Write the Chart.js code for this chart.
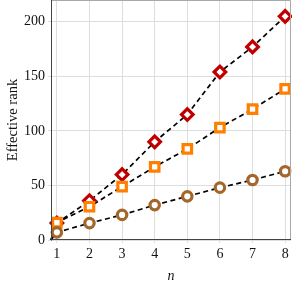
<!DOCTYPE html>
<html>
<head>
<meta charset="utf-8">
<script src="https://cdn.jsdelivr.net/npm/chart.js@4"></script>
<style>
  html, body { margin: 0; padding: 0; background: #fff; }
  #wrap { width: 292px; height: 289px; }
</style>
</head>
<body>
<div id="wrap"><canvas id="chart" width="292" height="289"></canvas></div>
<script>
// ---- DATA ----
const nValues    = [1, 2, 3, 4, 5, 6, 7, 8];
const redRank    = [15.5, 36, 60, 90, 115, 154, 177, 205];
const orangeRank = [16, 30.5, 49, 67, 83.5, 103, 120, 138.5];
const brownRank  = [7, 15.5, 23, 32, 40, 48, 55, 63];
const lineStart  = { x: 0.82, y: 0 };   // dashed guides start at the lower-left corner
const xTicks     = [1, 2, 3, 4, 5, 6, 7, 8];
const yTicks     = [0, 50, 100, 150, 200];

const FONT = "'Liberation Serif', 'DejaVu Serif', serif";

const toPoints = vals => nValues.map((n, i) => ({ x: n, y: vals[i] }));
const guide = vals => ({
  data: [lineStart, ...toPoints(vals)],
  showLine: true,
  borderColor: '#000',
  borderWidth: 1.7,
  borderDash: [5, 3.5],
  pointRadius: 0,
  order: 10
});
const markers = (vals, style, color, radius) => ({
  data: toPoints(vals),
  showLine: false,
  pointStyle: style,
  pointRadius: radius,
  pointBorderWidth: 3.2,
  pointBorderColor: color,
  pointBackgroundColor: '#fff',
  order: 1
});

// no extra room for overhanging tick labels
const noPad = s => { s.paddingTop = 0; s.paddingBottom = 0; s.paddingLeft = 0; s.paddingRight = 0; };

// box around the plot area
const frame = {
  id: 'frame',
  afterDraw(chart) {
    const { ctx, chartArea: a } = chart;
    ctx.save();
    ctx.strokeStyle = '#a8a8a8';
    ctx.lineWidth = 1;
    ctx.beginPath();
    ctx.moveTo(a.left, a.top + 0.5);
    ctx.lineTo(a.right - 0.5, a.top + 0.5);
    ctx.lineTo(a.right - 0.5, a.bottom);
    ctx.stroke();
    ctx.strokeStyle = '#444';
    ctx.beginPath();
    ctx.moveTo(a.left + 0.5, a.top);
    ctx.lineTo(a.left + 0.5, a.bottom - 0.5);
    ctx.lineTo(a.right, a.bottom - 0.5);
    ctx.stroke();
    ctx.restore();
  }
};

new Chart(document.getElementById('chart'), {
  type: 'scatter',
  data: {
    datasets: [
      guide(brownRank),
      guide(orangeRank),
      guide(redRank),
      markers(brownRank, 'circle', '#a3662b', 4.7),
      markers(orangeRank, 'rect', '#ff8000', 6),
      markers(redRank, 'rectRot', '#c00000', 5.8)
    ]
  },
  options: {
    responsive: false,
    animation: false,
    clip: false,
    layout: { autoPadding: false, padding: { top: 0, right: 1, left: 0, bottom: 0 } },
    plugins: { legend: { display: false }, tooltip: { enabled: false } },
    scales: {
      x: {
        type: 'linear',
        min: 0.82,
        max: 8.18,
        afterBuildTicks: s => { s.ticks = xTicks.map(v => ({ value: v })); },
        afterFit: s => { s.height = 49; noPad(s); },
        grid: { color: '#dedede', lineWidth: 1, drawTicks: true, tickLength: 3 },
        border: { display: false },
        ticks: { color: '#111', font: { family: FONT, size: 14 }, padding: 3, maxRotation: 0 },
        title: {
          display: true, text: 'n', color: '#111',
          font: { family: FONT, size: 14, style: 'italic' }, padding: { top: 5 }
        }
      },
      y: {
        type: 'linear',
        min: 0,
        max: 220,
        afterBuildTicks: s => { s.ticks = yTicks.map(v => ({ value: v })); },
        afterFit: s => { s.width = 51; noPad(s); },
        grid: { color: '#dedede', lineWidth: 1, drawTicks: true, tickLength: 3 },
        border: { display: false },
        ticks: { color: '#111', font: { family: FONT, size: 14 }, padding: 3 },
        title: {
          display: true, text: 'Effective rank', color: '#111',
          font: { family: FONT, size: 14.5 }, padding: { bottom: 1 }
        }
      }
    }
  },
  plugins: [frame]
});
</script>
</body>
</html>
